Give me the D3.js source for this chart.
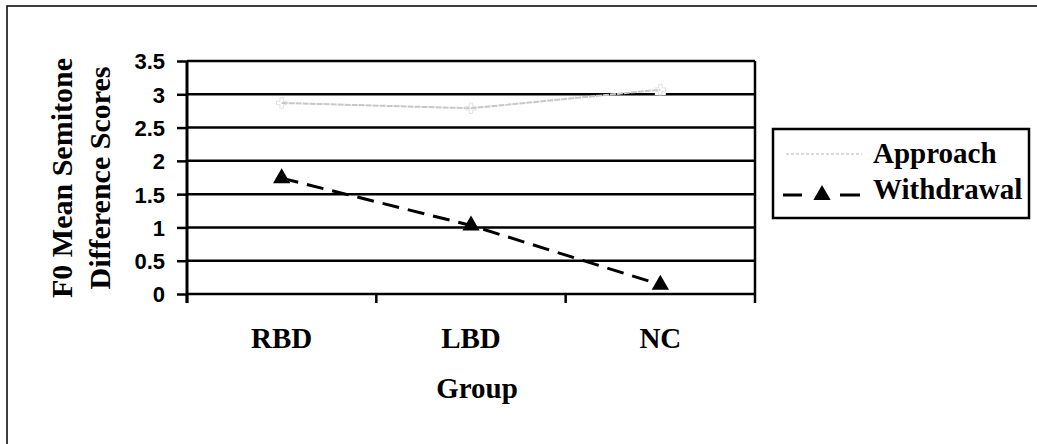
<!DOCTYPE html>
<html>
<head>
<meta charset="utf-8">
<script src="https://cdn.jsdelivr.net/npm/d3@7"></script>
<style>
  body { margin: 0; background: #fff; }
  svg { display: block; }
</style>
</head>
<body>
<div id="chart"></div>
<script>
// data
const groups = ["RBD", "LBD", "NC"];
const approach = [2.87, 2.79, 3.07];
const withdrawal = [1.74, 1.03, 0.14];
const yTicks = [0, 0.5, 1, 1.5, 2, 2.5, 3, 3.5];
const seriesNames = ["Approach", "Withdrawal"];

const width = 1037, height = 444;
const serif = "'Times New Roman', 'Liberation Serif', serif";
const sans = "Arial, 'Liberation Sans', sans-serif";

const plot = { left: 187, right: 755, top: 61, bottom: 294 };

const x = d3.scaleBand().domain(groups).range([plot.left, plot.right]);
const y = d3.scaleLinear().domain([0, 3.5]).range([plot.bottom, plot.top]);
const cx = d => x(d) + x.bandwidth() / 2;

const svg = d3.select("#chart").append("svg")
    .attr("width", width)
    .attr("height", height);

// outer frame (runs off the right / bottom edges)
svg.append("rect")
    .attr("x", 7).attr("y", 6)
    .attr("width", 1060).attr("height", 470)
    .attr("fill", "none").attr("stroke", "#000").attr("stroke-width", 1.5);

// gridlines
svg.append("g").selectAll("line")
  .data(yTicks)
  .join("line")
    .attr("x1", plot.left).attr("x2", plot.right)
    .attr("y1", d => y(d)).attr("y2", d => y(d))
    .attr("stroke", "#000").attr("stroke-width", 2.5);

// right border of plot area
svg.append("line")
    .attr("x1", plot.right).attr("x2", plot.right)
    .attr("y1", plot.top).attr("y2", plot.bottom + 9)
    .attr("stroke", "#000").attr("stroke-width", 2.5);

// y axis
const yAxis = svg.append("g")
    .attr("transform", `translate(${plot.left},0)`)
    .call(d3.axisLeft(y).tickValues(yTicks).tickSize(10).tickPadding(12)
      .tickFormat(d => d3.format("~g")(d)));
yAxis.select(".domain").remove();
yAxis.selectAll(".tick line").attr("stroke", "#000").attr("stroke-width", 2.5);
yAxis.selectAll(".tick text")
    .attr("font-family", sans).attr("font-weight", "bold")
    .attr("font-size", 22).attr("fill", "#000").attr("dy", "0.36em");
yAxis.append("line")
    .attr("x1", 0).attr("x2", 0)
    .attr("y1", plot.top).attr("y2", plot.bottom + 9)
    .attr("stroke", "#000").attr("stroke-width", 3);

// x axis ticks at band edges
const edges = groups.map(g => x(g));
svg.append("g").selectAll("line")
  .data(edges)
  .join("line")
    .attr("x1", d => d).attr("x2", d => d)
    .attr("y1", plot.bottom).attr("y2", plot.bottom + 9)
    .attr("stroke", "#000").attr("stroke-width", 2.5);

svg.append("g").selectAll("text")
  .data(groups)
  .join("text")
    .attr("x", cx).attr("y", 348)
    .attr("text-anchor", "middle")
    .attr("font-family", serif).attr("font-weight", "bold")
    .attr("font-size", 29)
    .text(d => d);

// axis titles
svg.append("text")
    .attr("x", 477).attr("y", 398)
    .attr("text-anchor", "middle")
    .attr("font-family", serif).attr("font-weight", "bold")
    .attr("font-size", 29)
    .text("Group");

const yTitle = svg.append("text")
    .attr("transform", "translate(0,178) rotate(-90)")
    .attr("text-anchor", "middle")
    .attr("font-family", serif).attr("font-weight", "bold")
    .attr("font-size", 30);
yTitle.append("tspan").attr("x", 0).attr("y", 72).text("F0 Mean Semitone");
yTitle.append("tspan").attr("x", 0).attr("y", 110).text("Difference Scores");

// series
const line = d3.line().x((d, i) => cx(groups[i])).y(d => y(d));

svg.append("g").selectAll("path")
  .data(approach)
  .join("path")
    .attr("transform", (d, i) => `translate(${cx(groups[i])},${y(d)})`)
    .attr("d", d3.symbol(d3.symbolSquare, 120)())
    .attr("fill", "#fff").attr("stroke", "none");

svg.append("path")
    .datum(approach)
    .attr("d", line)
    .attr("fill", "none")
    .attr("stroke", "#c8c8c8").attr("stroke-width", 2)
    .attr("stroke-dasharray", "6,1");

svg.append("g").selectAll("path")
  .data(approach)
  .join("path")
    .attr("transform", (d, i) => `translate(${cx(groups[i])},${y(d)})`)
    .attr("d", d3.symbol(d3.symbolCross, 60)())
    .attr("fill", "none").attr("stroke", "#e0e0e0").attr("stroke-width", 1);

svg.append("path")
    .datum(withdrawal)
    .attr("d", line)
    .attr("fill", "none")
    .attr("stroke", "#000").attr("stroke-width", 3)
    .attr("stroke-dasharray", "17,9");

const tri = d3.symbol(d3.symbolTriangle, 130);
svg.append("g").selectAll("path")
  .data(withdrawal)
  .join("path")
    .attr("transform", (d, i) => `translate(${cx(groups[i])},${y(d)})`)
    .attr("d", tri())
    .attr("fill", "#000");

// legend
const legend = svg.append("g");
legend.append("rect")
    .attr("x", 773).attr("y", 129)
    .attr("width", 256).attr("height", 89)
    .attr("fill", "#fff").attr("stroke", "#000").attr("stroke-width", 2.5);

const rows = [
  { name: seriesNames[0], ly: 154, ty: 163 },
  { name: seriesNames[1], ly: 195, ty: 199 }
];

legend.append("line")
    .attr("x1", 786).attr("x2", 862)
    .attr("y1", rows[0].ly).attr("y2", rows[0].ly)
    .attr("stroke", "#d0d0d0").attr("stroke-width", 1.5)
    .attr("stroke-dasharray", "3,2");

legend.selectAll("line.wd")
  .data([[783, 802], [840, 860]])
  .join("line")
    .attr("class", "wd")
    .attr("x1", d => d[0]).attr("x2", d => d[1])
    .attr("y1", rows[1].ly).attr("y2", rows[1].ly)
    .attr("stroke", "#000").attr("stroke-width", 3);
legend.append("path")
    .attr("transform", `translate(822,${rows[1].ly})`)
    .attr("d", tri())
    .attr("fill", "#000");

legend.selectAll("text.lbl")
  .data(rows)
  .join("text")
    .attr("class", "lbl")
    .attr("x", 873).attr("y", d => d.ty)
    .attr("font-family", serif).attr("font-weight", "bold")
    .attr("font-size", 29)
    .text(d => d.name);
</script>
</body>
</html>
